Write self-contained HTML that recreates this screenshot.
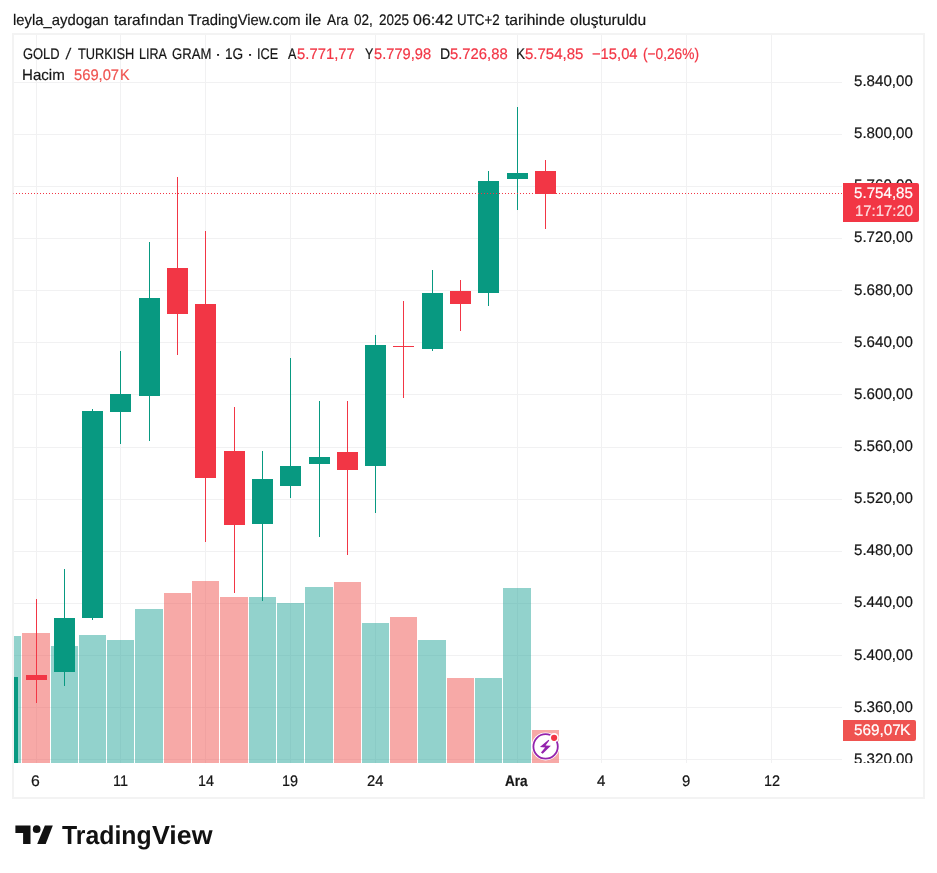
<!DOCTYPE html>
<html lang="tr"><head><meta charset="utf-8"><title>GOLD / TURKISH LIRA GRAM</title>
<style>
html,body{margin:0;padding:0;background:#fff}
body{width:937px;height:873px;position:relative;overflow:hidden;font-family:"Liberation Sans","DejaVu Sans",sans-serif;color:#131722}
.cv{position:absolute;left:0;top:0}
.frame{position:absolute;left:12px;top:33px;width:909px;height:762px;border:2px solid #f3f3f3}
.t{position:absolute;white-space:nowrap;display:block;transform-origin:0 0}
.pa{position:absolute;left:0;top:0;width:937px;height:763px;overflow:hidden}
.lab{position:absolute}
</style></head><body>
<div class="frame"></div>
<svg class="cv" width="937" height="873" viewBox="0 0 937 873" shape-rendering="crispEdges">
<rect x="14" y="82" width="828" height="1" fill="#f1f1f2"/>
<rect x="14" y="134" width="828" height="1" fill="#f1f1f2"/>
<rect x="14" y="186" width="828" height="1" fill="#f1f1f2"/>
<rect x="14" y="238" width="828" height="1" fill="#f1f1f2"/>
<rect x="14" y="290" width="828" height="1" fill="#f1f1f2"/>
<rect x="14" y="342" width="828" height="1" fill="#f1f1f2"/>
<rect x="14" y="394" width="828" height="1" fill="#f1f1f2"/>
<rect x="14" y="447" width="828" height="1" fill="#f1f1f2"/>
<rect x="14" y="499" width="828" height="1" fill="#f1f1f2"/>
<rect x="14" y="551" width="828" height="1" fill="#f1f1f2"/>
<rect x="14" y="603" width="828" height="1" fill="#f1f1f2"/>
<rect x="14" y="655" width="828" height="1" fill="#f1f1f2"/>
<rect x="14" y="707" width="828" height="1" fill="#f1f1f2"/>
<rect x="14" y="759" width="828" height="1" fill="#f1f1f2"/>
<rect x="36" y="35" width="1" height="728" fill="#f1f1f2"/>
<rect x="120" y="35" width="1" height="728" fill="#f1f1f2"/>
<rect x="205" y="35" width="1" height="728" fill="#f1f1f2"/>
<rect x="290" y="35" width="1" height="728" fill="#f1f1f2"/>
<rect x="375" y="35" width="1" height="728" fill="#f1f1f2"/>
<rect x="517" y="35" width="1" height="728" fill="#f1f1f2"/>
<rect x="601" y="35" width="1" height="728" fill="#f1f1f2"/>
<rect x="686" y="35" width="1" height="728" fill="#f1f1f2"/>
<rect x="771" y="35" width="1" height="728" fill="#f1f1f2"/>
<rect x="14" y="636" width="7" height="127" fill="rgba(38,166,154,0.5)"/>
<rect x="22" y="633" width="28" height="130" fill="rgba(239,83,80,0.5)"/>
<rect x="51" y="646" width="27" height="117" fill="rgba(38,166,154,0.5)"/>
<rect x="79" y="635" width="27" height="128" fill="rgba(38,166,154,0.5)"/>
<rect x="107" y="640" width="27" height="123" fill="rgba(38,166,154,0.5)"/>
<rect x="135" y="609" width="28" height="154" fill="rgba(38,166,154,0.5)"/>
<rect x="164" y="593" width="27" height="170" fill="rgba(239,83,80,0.5)"/>
<rect x="192" y="581" width="27" height="182" fill="rgba(239,83,80,0.5)"/>
<rect x="220" y="597" width="28" height="166" fill="rgba(239,83,80,0.5)"/>
<rect x="249" y="597" width="27" height="166" fill="rgba(38,166,154,0.5)"/>
<rect x="277" y="603" width="27" height="160" fill="rgba(38,166,154,0.5)"/>
<rect x="305" y="587" width="28" height="176" fill="rgba(38,166,154,0.5)"/>
<rect x="334" y="582" width="27" height="181" fill="rgba(239,83,80,0.5)"/>
<rect x="362" y="623" width="27" height="140" fill="rgba(38,166,154,0.5)"/>
<rect x="390" y="617" width="27" height="146" fill="rgba(239,83,80,0.5)"/>
<rect x="418" y="640" width="28" height="123" fill="rgba(38,166,154,0.5)"/>
<rect x="447" y="678" width="27" height="85" fill="rgba(239,83,80,0.5)"/>
<rect x="475" y="678" width="27" height="85" fill="rgba(38,166,154,0.5)"/>
<rect x="503" y="588" width="28" height="175" fill="rgba(38,166,154,0.5)"/>
<rect x="532" y="730" width="27" height="33" fill="rgba(239,83,80,0.5)"/>
<rect x="14" y="677" width="4" height="86" fill="#089981"/>
<rect x="36" y="599" width="1" height="104" fill="#f23645"/>
<rect x="26" y="675" width="21" height="5" fill="#f23645"/>
<rect x="64" y="569" width="1" height="117" fill="#089981"/>
<rect x="54" y="618" width="21" height="54" fill="#089981"/>
<rect x="92" y="409" width="1" height="211" fill="#089981"/>
<rect x="82" y="411" width="21" height="207" fill="#089981"/>
<rect x="120" y="351" width="1" height="93" fill="#089981"/>
<rect x="110" y="394" width="21" height="18" fill="#089981"/>
<rect x="149" y="242" width="1" height="199" fill="#089981"/>
<rect x="139" y="298" width="21" height="98" fill="#089981"/>
<rect x="177" y="177" width="1" height="178" fill="#f23645"/>
<rect x="167" y="268" width="21" height="46" fill="#f23645"/>
<rect x="205" y="231" width="1" height="311" fill="#f23645"/>
<rect x="195" y="304" width="21" height="174" fill="#f23645"/>
<rect x="234" y="407" width="1" height="186" fill="#f23645"/>
<rect x="224" y="451" width="21" height="74" fill="#f23645"/>
<rect x="262" y="451" width="1" height="150" fill="#089981"/>
<rect x="252" y="479" width="21" height="45" fill="#089981"/>
<rect x="290" y="358" width="1" height="140" fill="#089981"/>
<rect x="280" y="466" width="21" height="20" fill="#089981"/>
<rect x="319" y="401" width="1" height="136" fill="#089981"/>
<rect x="309" y="457" width="21" height="7" fill="#089981"/>
<rect x="347" y="401" width="1" height="154" fill="#f23645"/>
<rect x="337" y="452" width="21" height="18" fill="#f23645"/>
<rect x="375" y="335" width="1" height="178" fill="#089981"/>
<rect x="365" y="345" width="21" height="121" fill="#089981"/>
<rect x="403" y="301" width="1" height="97" fill="#f23645"/>
<rect x="393" y="346" width="21" height="1" fill="#f23645"/>
<rect x="432" y="270" width="1" height="81" fill="#089981"/>
<rect x="422" y="293" width="21" height="56" fill="#089981"/>
<rect x="460" y="280" width="1" height="51" fill="#f23645"/>
<rect x="450" y="291" width="21" height="13" fill="#f23645"/>
<rect x="488" y="171" width="1" height="135" fill="#089981"/>
<rect x="478" y="181" width="21" height="112" fill="#089981"/>
<rect x="517" y="107" width="1" height="103" fill="#089981"/>
<rect x="507" y="173" width="21" height="6" fill="#089981"/>
<rect x="545" y="160" width="1" height="69" fill="#f23645"/>
<rect x="535" y="171" width="21" height="23" fill="#f23645"/>
<path d="M16 193h1v1h-1zM19 193h1v1h-1zM22 193h1v1h-1zM25 193h1v1h-1zM28 193h1v1h-1zM31 193h1v1h-1zM34 193h1v1h-1zM37 193h1v1h-1zM40 193h1v1h-1zM43 193h1v1h-1zM46 193h1v1h-1zM49 193h1v1h-1zM52 193h1v1h-1zM55 193h1v1h-1zM58 193h1v1h-1zM61 193h1v1h-1zM64 193h1v1h-1zM67 193h1v1h-1zM70 193h1v1h-1zM73 193h1v1h-1zM76 193h1v1h-1zM79 193h1v1h-1zM82 193h1v1h-1zM85 193h1v1h-1zM88 193h1v1h-1zM91 193h1v1h-1zM94 193h1v1h-1zM97 193h1v1h-1zM100 193h1v1h-1zM103 193h1v1h-1zM106 193h1v1h-1zM109 193h1v1h-1zM112 193h1v1h-1zM115 193h1v1h-1zM118 193h1v1h-1zM121 193h1v1h-1zM124 193h1v1h-1zM127 193h1v1h-1zM130 193h1v1h-1zM133 193h1v1h-1zM136 193h1v1h-1zM139 193h1v1h-1zM142 193h1v1h-1zM145 193h1v1h-1zM148 193h1v1h-1zM151 193h1v1h-1zM154 193h1v1h-1zM157 193h1v1h-1zM160 193h1v1h-1zM163 193h1v1h-1zM166 193h1v1h-1zM169 193h1v1h-1zM172 193h1v1h-1zM175 193h1v1h-1zM178 193h1v1h-1zM181 193h1v1h-1zM184 193h1v1h-1zM187 193h1v1h-1zM190 193h1v1h-1zM193 193h1v1h-1zM196 193h1v1h-1zM199 193h1v1h-1zM202 193h1v1h-1zM205 193h1v1h-1zM208 193h1v1h-1zM211 193h1v1h-1zM214 193h1v1h-1zM217 193h1v1h-1zM220 193h1v1h-1zM223 193h1v1h-1zM226 193h1v1h-1zM229 193h1v1h-1zM232 193h1v1h-1zM235 193h1v1h-1zM238 193h1v1h-1zM241 193h1v1h-1zM244 193h1v1h-1zM247 193h1v1h-1zM250 193h1v1h-1zM253 193h1v1h-1zM256 193h1v1h-1zM259 193h1v1h-1zM262 193h1v1h-1zM265 193h1v1h-1zM268 193h1v1h-1zM271 193h1v1h-1zM274 193h1v1h-1zM277 193h1v1h-1zM280 193h1v1h-1zM283 193h1v1h-1zM286 193h1v1h-1zM289 193h1v1h-1zM292 193h1v1h-1zM295 193h1v1h-1zM298 193h1v1h-1zM301 193h1v1h-1zM304 193h1v1h-1zM307 193h1v1h-1zM310 193h1v1h-1zM313 193h1v1h-1zM316 193h1v1h-1zM319 193h1v1h-1zM322 193h1v1h-1zM325 193h1v1h-1zM328 193h1v1h-1zM331 193h1v1h-1zM334 193h1v1h-1zM337 193h1v1h-1zM340 193h1v1h-1zM343 193h1v1h-1zM346 193h1v1h-1zM349 193h1v1h-1zM352 193h1v1h-1zM355 193h1v1h-1zM358 193h1v1h-1zM361 193h1v1h-1zM364 193h1v1h-1zM367 193h1v1h-1zM370 193h1v1h-1zM373 193h1v1h-1zM376 193h1v1h-1zM379 193h1v1h-1zM382 193h1v1h-1zM385 193h1v1h-1zM388 193h1v1h-1zM391 193h1v1h-1zM394 193h1v1h-1zM397 193h1v1h-1zM400 193h1v1h-1zM403 193h1v1h-1zM406 193h1v1h-1zM409 193h1v1h-1zM412 193h1v1h-1zM415 193h1v1h-1zM418 193h1v1h-1zM421 193h1v1h-1zM424 193h1v1h-1zM427 193h1v1h-1zM430 193h1v1h-1zM433 193h1v1h-1zM436 193h1v1h-1zM439 193h1v1h-1zM442 193h1v1h-1zM445 193h1v1h-1zM448 193h1v1h-1zM451 193h1v1h-1zM454 193h1v1h-1zM457 193h1v1h-1zM460 193h1v1h-1zM463 193h1v1h-1zM466 193h1v1h-1zM469 193h1v1h-1zM472 193h1v1h-1zM475 193h1v1h-1zM478 193h1v1h-1zM481 193h1v1h-1zM484 193h1v1h-1zM487 193h1v1h-1zM490 193h1v1h-1zM493 193h1v1h-1zM496 193h1v1h-1zM499 193h1v1h-1zM502 193h1v1h-1zM505 193h1v1h-1zM508 193h1v1h-1zM511 193h1v1h-1zM514 193h1v1h-1zM517 193h1v1h-1zM520 193h1v1h-1zM523 193h1v1h-1zM526 193h1v1h-1zM529 193h1v1h-1zM532 193h1v1h-1zM535 193h1v1h-1zM538 193h1v1h-1zM541 193h1v1h-1zM544 193h1v1h-1zM547 193h1v1h-1zM550 193h1v1h-1zM553 193h1v1h-1zM556 193h1v1h-1zM559 193h1v1h-1zM562 193h1v1h-1zM565 193h1v1h-1zM568 193h1v1h-1zM571 193h1v1h-1zM574 193h1v1h-1zM577 193h1v1h-1zM580 193h1v1h-1zM583 193h1v1h-1zM586 193h1v1h-1zM589 193h1v1h-1zM592 193h1v1h-1zM595 193h1v1h-1zM598 193h1v1h-1zM601 193h1v1h-1zM604 193h1v1h-1zM607 193h1v1h-1zM610 193h1v1h-1zM613 193h1v1h-1zM616 193h1v1h-1zM619 193h1v1h-1zM622 193h1v1h-1zM625 193h1v1h-1zM628 193h1v1h-1zM631 193h1v1h-1zM634 193h1v1h-1zM637 193h1v1h-1zM640 193h1v1h-1zM643 193h1v1h-1zM646 193h1v1h-1zM649 193h1v1h-1zM652 193h1v1h-1zM655 193h1v1h-1zM658 193h1v1h-1zM661 193h1v1h-1zM664 193h1v1h-1zM667 193h1v1h-1zM670 193h1v1h-1zM673 193h1v1h-1zM676 193h1v1h-1zM679 193h1v1h-1zM682 193h1v1h-1zM685 193h1v1h-1zM688 193h1v1h-1zM691 193h1v1h-1zM694 193h1v1h-1zM697 193h1v1h-1zM700 193h1v1h-1zM703 193h1v1h-1zM706 193h1v1h-1zM709 193h1v1h-1zM712 193h1v1h-1zM715 193h1v1h-1zM718 193h1v1h-1zM721 193h1v1h-1zM724 193h1v1h-1zM727 193h1v1h-1zM730 193h1v1h-1zM733 193h1v1h-1zM736 193h1v1h-1zM739 193h1v1h-1zM742 193h1v1h-1zM745 193h1v1h-1zM748 193h1v1h-1zM751 193h1v1h-1zM754 193h1v1h-1zM757 193h1v1h-1zM760 193h1v1h-1zM763 193h1v1h-1zM766 193h1v1h-1zM769 193h1v1h-1zM772 193h1v1h-1zM775 193h1v1h-1zM778 193h1v1h-1zM781 193h1v1h-1zM784 193h1v1h-1zM787 193h1v1h-1zM790 193h1v1h-1zM793 193h1v1h-1zM796 193h1v1h-1zM799 193h1v1h-1zM802 193h1v1h-1zM805 193h1v1h-1zM808 193h1v1h-1zM811 193h1v1h-1zM814 193h1v1h-1zM817 193h1v1h-1zM820 193h1v1h-1zM823 193h1v1h-1zM826 193h1v1h-1zM829 193h1v1h-1zM832 193h1v1h-1zM835 193h1v1h-1zM838 193h1v1h-1zM841 193h1v1h-1z" fill="#f23645"/>
<rect x="13" y="193" width="1" height="1" fill="#f23645" opacity="0.4"/>
</svg>
<div class="hdr">
<span class="t" style="left:12.83px;top:12.00px;font-size:15.3px;line-height:18px;text-rendering:geometricPrecision;-webkit-text-stroke:0.2px;color:#161616;transform-origin:0 13.0px;transform:scale(0.9695,1)">leyla_aydogan</span>
<span class="t" style="left:113.70px;top:12.00px;font-size:15.3px;line-height:18px;text-rendering:geometricPrecision;-webkit-text-stroke:0.2px;color:#161616;transform-origin:0 13.0px;transform:scale(1.0132,1)">tarafından</span>
<span class="t" style="left:188.26px;top:12.00px;font-size:15.3px;line-height:18px;text-rendering:geometricPrecision;-webkit-text-stroke:0.2px;color:#161616;transform-origin:0 13.0px;transform:scale(0.9675,1)">TradingView.com</span>
<span class="t" style="left:305.45px;top:12.00px;font-size:15.3px;line-height:18px;text-rendering:geometricPrecision;-webkit-text-stroke:0.2px;color:#161616;transform-origin:0 13.0px;transform:scale(1.0545,1)">ile</span>
<span class="t" style="left:327.00px;top:12.00px;font-size:15.3px;line-height:18px;text-rendering:geometricPrecision;-webkit-text-stroke:0.2px;color:#161616;transform-origin:0 13.0px;transform:scale(0.8958,1)">Ara</span>
<span class="t" style="left:354.26px;top:12.00px;font-size:15.3px;line-height:18px;text-rendering:geometricPrecision;-webkit-text-stroke:0.2px;color:#161616;transform-origin:0 13.0px;transform:scale(0.8872,1)">02,</span>
<span class="t" style="left:379.14px;top:12.00px;font-size:15.3px;line-height:18px;text-rendering:geometricPrecision;-webkit-text-stroke:0.2px;color:#161616;transform-origin:0 13.0px;transform:scale(0.8824,1)">2025</span>
<span class="t" style="left:412.78px;top:12.00px;font-size:15.3px;line-height:18px;text-rendering:geometricPrecision;-webkit-text-stroke:0.2px;color:#161616;transform-origin:0 13.0px;transform:scale(1.0459,1)">06:42</span>
<span class="t" style="left:456.83px;top:12.00px;font-size:15.3px;line-height:18px;text-rendering:geometricPrecision;-webkit-text-stroke:0.2px;color:#161616;transform-origin:0 13.0px;transform:scale(0.8741,1)">UTC+2</span>
<span class="t" style="left:505.30px;top:12.00px;font-size:15.3px;line-height:18px;text-rendering:geometricPrecision;-webkit-text-stroke:0.2px;color:#161616;transform-origin:0 13.0px;transform:scale(1.0197,1)">tarihinde</span>
<span class="t" style="left:570.09px;top:12.00px;font-size:15.3px;line-height:18px;text-rendering:geometricPrecision;-webkit-text-stroke:0.2px;color:#161616;transform-origin:0 13.0px;transform:scale(1.0177,1)">oluşturuldu</span>
<span class="t" style="left:22.87px;top:45.90px;font-size:15.3px;line-height:18px;text-rendering:geometricPrecision;-webkit-text-stroke:0.2px;color:#161616;transform-origin:0 13.0px;transform:scale(0.8452,1)">GOLD</span>
<span class="t" style="left:66.00px;top:45.90px;font-size:15.3px;line-height:18px;text-rendering:geometricPrecision;-webkit-text-stroke:0.2px;color:#161616;transform-origin:50% 50%;transform:skewX(-8deg)">/</span>
<span class="t" style="left:78.09px;top:45.90px;font-size:15.3px;line-height:18px;text-rendering:geometricPrecision;-webkit-text-stroke:0.2px;color:#161616;transform-origin:0 13.0px;transform:scale(0.8365,1)">TURKISH</span>
<span class="t" style="left:138.67px;top:45.90px;font-size:15.3px;line-height:18px;text-rendering:geometricPrecision;-webkit-text-stroke:0.2px;color:#161616;transform-origin:0 13.0px;transform:scale(0.8214,1)">LIRA</span>
<span class="t" style="left:171.86px;top:45.90px;font-size:15.3px;line-height:18px;text-rendering:geometricPrecision;-webkit-text-stroke:0.2px;color:#161616;transform-origin:0 13.0px;transform:scale(0.8568,1)">GRAM</span>
<span class="t" style="left:214.85px;top:45.90px;font-size:15.3px;line-height:18px;text-rendering:geometricPrecision;-webkit-text-stroke:0.2px;color:#161616;transform-origin:0 13.0px;transform:scale(1.2000,1)">·</span>
<span class="t" style="left:224.91px;top:45.90px;font-size:15.3px;line-height:18px;text-rendering:geometricPrecision;-webkit-text-stroke:0.2px;color:#161616;transform-origin:0 13.0px;transform:scale(0.8919,1)">1G</span>
<span class="t" style="left:247.05px;top:45.90px;font-size:15.3px;line-height:18px;text-rendering:geometricPrecision;-webkit-text-stroke:0.2px;color:#161616;transform-origin:0 13.0px;transform:scale(1.2000,1)">·</span>
<span class="t" style="left:257.26px;top:45.90px;font-size:15.3px;line-height:18px;text-rendering:geometricPrecision;-webkit-text-stroke:0.2px;color:#161616;transform-origin:0 13.0px;transform:scale(0.8295,1)">ICE</span>
<span class="t" style="left:288.20px;top:45.90px;font-size:15.3px;line-height:18px;text-rendering:geometricPrecision;-webkit-text-stroke:0.2px;color:#161616;transform-origin:0 13.0px;transform:scale(0.8195,1)">A</span>
<span class="t" style="left:365.19px;top:45.90px;font-size:15.3px;line-height:18px;text-rendering:geometricPrecision;-webkit-text-stroke:0.2px;color:#161616;transform-origin:0 13.0px;transform:scale(0.8205,1)">Y</span>
<span class="t" style="left:439.65px;top:45.90px;font-size:15.3px;line-height:18px;text-rendering:geometricPrecision;-webkit-text-stroke:0.2px;color:#161616;transform-origin:0 13.0px;transform:scale(0.9189,1)">D</span>
<span class="t" style="left:516.29px;top:45.90px;font-size:15.3px;line-height:18px;text-rendering:geometricPrecision;-webkit-text-stroke:0.2px;color:#161616;transform-origin:0 13.0px;transform:scale(0.8914,1)">K</span>
<span class="t" style="left:296.71px;top:45.90px;font-size:15.3px;line-height:18px;text-rendering:geometricPrecision;-webkit-text-stroke:0.2px;color:#f23645;transform-origin:0 13.0px;transform:scale(0.9709,1)">5.771,77</span>
<span class="t" style="left:373.72px;top:45.90px;font-size:15.3px;line-height:18px;text-rendering:geometricPrecision;-webkit-text-stroke:0.2px;color:#f23645;transform-origin:0 13.0px;transform:scale(0.9590,1)">5.779,98</span>
<span class="t" style="left:449.82px;top:45.90px;font-size:15.3px;line-height:18px;text-rendering:geometricPrecision;-webkit-text-stroke:0.2px;color:#f23645;transform-origin:0 13.0px;transform:scale(0.9692,1)">5.726,88</span>
<span class="t" style="left:525.11px;top:45.90px;font-size:15.3px;line-height:18px;text-rendering:geometricPrecision;-webkit-text-stroke:0.2px;color:#f23645;transform-origin:0 13.0px;transform:scale(0.9812,1)">5.754,85</span>
<span class="t" style="left:591.88px;top:45.90px;font-size:15.3px;line-height:18px;text-rendering:geometricPrecision;-webkit-text-stroke:0.2px;color:#f23645;transform-origin:0 13.0px;transform:scale(0.9652,1)">−15,04</span>
<span class="t" style="left:642.73px;top:45.90px;font-size:15.3px;line-height:18px;text-rendering:geometricPrecision;-webkit-text-stroke:0.2px;color:#f23645;transform-origin:0 13.0px;transform:scale(0.8951,1)">(−0,26%)</span>
<span class="t" style="left:22.27px;top:66.80px;font-size:15.3px;line-height:18px;text-rendering:geometricPrecision;-webkit-text-stroke:0.2px;color:#161616;transform-origin:0 13.0px;transform:scale(0.9867,1)">Hacim</span>
<span class="t" style="left:73.92px;top:66.80px;font-size:15.3px;line-height:18px;text-rendering:geometricPrecision;-webkit-text-stroke:0.2px;color:#ef5350;transform-origin:0 13.0px;transform:scale(0.9626,1)">569,07</span>
<span class="t" style="left:120.13px;top:66.80px;font-size:15.3px;line-height:18px;text-rendering:geometricPrecision;-webkit-text-stroke:0.2px;color:#ef5350;transform-origin:0 13.0px;transform:scale(0.9371,1)">K</span>
<span class="t" style="left:31.22px;top:772.90px;font-size:15.3px;line-height:18px;text-rendering:geometricPrecision;-webkit-text-stroke:0.2px;color:#161616;transform-origin:0 13.0px;transform:scale(1.0345,1)">6</span>
<span class="t" style="left:112.50px;top:772.90px;font-size:15.3px;line-height:18px;text-rendering:geometricPrecision;-webkit-text-stroke:0.2px;color:#161616;transform-origin:0 13.0px;transform:scale(0.9474,1)">11</span>
<span class="t" style="left:197.72px;top:772.90px;font-size:15.3px;line-height:18px;text-rendering:geometricPrecision;-webkit-text-stroke:0.2px;color:#161616;transform-origin:0 13.0px;transform:scale(0.9333,1)">14</span>
<span class="t" style="left:282.26px;top:772.90px;font-size:15.3px;line-height:18px;text-rendering:geometricPrecision;-webkit-text-stroke:0.2px;color:#161616;transform-origin:0 13.0px;transform:scale(0.9419,1)">19</span>
<span class="t" style="left:366.88px;top:772.90px;font-size:15.3px;line-height:18px;text-rendering:geometricPrecision;-webkit-text-stroke:0.2px;color:#161616;transform-origin:0 13.0px;transform:scale(0.9625,1)">24</span>
<span class="t" style="left:504.98px;top:772.90px;font-size:15.3px;line-height:18px;text-rendering:geometricPrecision;-webkit-text-stroke:0.2px;color:#161616;font-weight:bold;transform-origin:0 13.0px;transform:scale(0.8863,1)">Ara</span>
<span class="t" style="left:597.25px;top:772.90px;font-size:15.3px;line-height:18px;text-rendering:geometricPrecision;-webkit-text-stroke:0.2px;color:#161616;transform-origin:0 13.0px;transform:scale(0.9875,1)">4</span>
<span class="t" style="left:682.36px;top:772.90px;font-size:15.3px;line-height:18px;text-rendering:geometricPrecision;-webkit-text-stroke:0.2px;color:#161616;transform-origin:0 13.0px;transform:scale(0.9733,1)">9</span>
<span class="t" style="left:763.56px;top:772.90px;font-size:15.3px;line-height:18px;text-rendering:geometricPrecision;-webkit-text-stroke:0.2px;color:#161616;transform-origin:0 13.0px;transform:scale(0.9443,1)">12</span>
</div>
<div class="pa">
<span class="t" style="left:853.51px;top:72.90px;font-size:15.3px;line-height:18px;text-rendering:geometricPrecision;-webkit-text-stroke:0.2px;color:#161616;transform-origin:0 13.0px;transform:scale(0.9880,1)">5.840,00</span>
<span class="t" style="left:853.51px;top:125.05px;font-size:15.3px;line-height:18px;text-rendering:geometricPrecision;-webkit-text-stroke:0.2px;color:#161616;transform-origin:0 13.0px;transform:scale(0.9880,1)">5.800,00</span>
<span class="t" style="left:853.51px;top:177.20px;font-size:15.3px;line-height:18px;text-rendering:geometricPrecision;-webkit-text-stroke:0.2px;color:#161616;transform-origin:0 13.0px;transform:scale(0.9880,1)">5.760,00</span>
<span class="t" style="left:853.51px;top:229.35px;font-size:15.3px;line-height:18px;text-rendering:geometricPrecision;-webkit-text-stroke:0.2px;color:#161616;transform-origin:0 13.0px;transform:scale(0.9880,1)">5.720,00</span>
<span class="t" style="left:853.51px;top:281.50px;font-size:15.3px;line-height:18px;text-rendering:geometricPrecision;-webkit-text-stroke:0.2px;color:#161616;transform-origin:0 13.0px;transform:scale(0.9880,1)">5.680,00</span>
<span class="t" style="left:853.51px;top:333.65px;font-size:15.3px;line-height:18px;text-rendering:geometricPrecision;-webkit-text-stroke:0.2px;color:#161616;transform-origin:0 13.0px;transform:scale(0.9880,1)">5.640,00</span>
<span class="t" style="left:853.51px;top:385.80px;font-size:15.3px;line-height:18px;text-rendering:geometricPrecision;-webkit-text-stroke:0.2px;color:#161616;transform-origin:0 13.0px;transform:scale(0.9880,1)">5.600,00</span>
<span class="t" style="left:853.51px;top:437.95px;font-size:15.3px;line-height:18px;text-rendering:geometricPrecision;-webkit-text-stroke:0.2px;color:#161616;transform-origin:0 13.0px;transform:scale(0.9880,1)">5.560,00</span>
<span class="t" style="left:853.51px;top:490.10px;font-size:15.3px;line-height:18px;text-rendering:geometricPrecision;-webkit-text-stroke:0.2px;color:#161616;transform-origin:0 13.0px;transform:scale(0.9880,1)">5.520,00</span>
<span class="t" style="left:853.51px;top:542.25px;font-size:15.3px;line-height:18px;text-rendering:geometricPrecision;-webkit-text-stroke:0.2px;color:#161616;transform-origin:0 13.0px;transform:scale(0.9880,1)">5.480,00</span>
<span class="t" style="left:853.51px;top:594.40px;font-size:15.3px;line-height:18px;text-rendering:geometricPrecision;-webkit-text-stroke:0.2px;color:#161616;transform-origin:0 13.0px;transform:scale(0.9880,1)">5.440,00</span>
<span class="t" style="left:853.51px;top:646.55px;font-size:15.3px;line-height:18px;text-rendering:geometricPrecision;-webkit-text-stroke:0.2px;color:#161616;transform-origin:0 13.0px;transform:scale(0.9880,1)">5.400,00</span>
<span class="t" style="left:853.51px;top:698.70px;font-size:15.3px;line-height:18px;text-rendering:geometricPrecision;-webkit-text-stroke:0.2px;color:#161616;transform-origin:0 13.0px;transform:scale(0.9880,1)">5.360,00</span>
<span class="t" style="left:853.51px;top:750.85px;font-size:15.3px;line-height:18px;text-rendering:geometricPrecision;-webkit-text-stroke:0.2px;color:#161616;transform-origin:0 13.0px;transform:scale(0.9880,1)">5.320,00</span>
</div>
<div class="lab" style="left:843px;top:183px;width:76px;height:39px;background:#f23645;border-radius:0 2px 2px 0"></div>
<div class="lab" style="left:843px;top:720px;width:73px;height:21px;background:#ef5350;border-radius:0 2px 2px 0"></div>
<svg class="cv" width="937" height="873" viewBox="0 0 937 873">
<circle cx="545.6" cy="746.4" r="14" fill="#fff"/>
<circle cx="545.6" cy="746.4" r="12.2" fill="#fff" stroke="#9423ad" stroke-width="1.8"/>
<circle cx="554.1" cy="737.8" r="4.7" fill="#fff"/>
<circle cx="554.1" cy="737.8" r="3.1" fill="#f23645"/>
<path d="M548.49 739.78L549.29 740.47L545.51 745.62L550.89 745.74L542.64 753.64L540.93 752.38L545.16 747.45L539.89 747.11Z" fill="#9423ad"/>
<g fill="#111">
<path d="M15.4 825.6H30.5V843.9H23.1V832.9H15.4Z"/>
<circle cx="36.7" cy="829.2" r="3.85"/>
<path d="M44.9 825.6H52.8L45.7 843.9H37.2Z"/>
</g>
</svg>
<div class="top">
<span class="t" style="left:853.91px;top:184.80px;font-size:15.3px;line-height:18px;text-rendering:geometricPrecision;-webkit-text-stroke:0.2px;color:#fff;transform-origin:0 13.0px;transform:scale(0.9897,1)">5.754,85</span>
<span class="t" style="left:854.72px;top:202.80px;font-size:15.3px;line-height:18px;text-rendering:geometricPrecision;-webkit-text-stroke:0.2px;color:rgba(255,255,255,0.8);transform-origin:0 13.0px;transform:scale(0.9759,1)">17:17:20</span>
<span class="t" style="left:853.90px;top:721.90px;font-size:15.3px;line-height:18px;text-rendering:geometricPrecision;-webkit-text-stroke:0.2px;color:#fff;transform-origin:0 13.0px;transform:scale(1.0022,1)">569,07</span>
<span class="t" style="left:900.31px;top:721.90px;font-size:15.3px;line-height:18px;text-rendering:geometricPrecision;-webkit-text-stroke:0.2px;color:#fff;transform-origin:0 13.0px;transform:scale(1.0286,1)">K</span>
<span class="t" style="left:62.06px;top:819.00px;font-size:26px;line-height:32px;font-weight:bold;color:#111;text-rendering:geometricPrecision;transform-origin:0 25.0px;transform:scale(0.9543,1)">Trading</span>
<span class="t" style="left:152.04px;top:819.00px;font-size:26px;line-height:32px;font-weight:bold;color:#111;text-rendering:geometricPrecision;transform-origin:0 25.0px;transform:scale(1.0291,1)">View</span>
</div>
</body></html>
